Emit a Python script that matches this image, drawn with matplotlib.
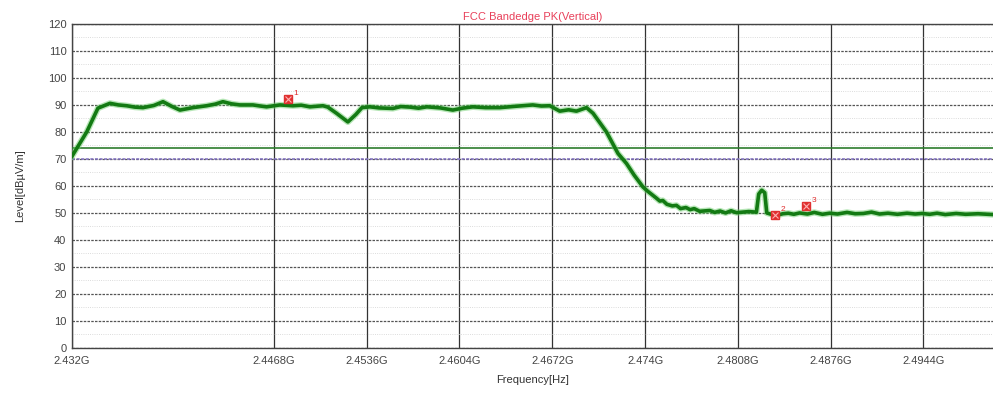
import matplotlib
matplotlib.use("Agg")
import matplotlib.pyplot as plt
from matplotlib.ticker import FixedLocator, MultipleLocator

# trace (frequency in GHz, level in dBuV/m)
freq_ghz = [
    2.43200, 2.43308, 2.43390, 2.43478, 2.43540, 2.43601, 2.43660, 2.43720,
    2.43800, 2.43867, 2.43930, 2.43991, 2.44086, 2.44187, 2.44250, 2.44306,
    2.44370, 2.44431, 2.44526, 2.44580, 2.44626, 2.44724, 2.44819, 2.44880,
    2.44944, 2.45039, 2.45075, 2.45139, 2.45222, 2.45281, 2.45325, 2.45383,
    2.45450, 2.45552, 2.45610, 2.45676, 2.45740, 2.45801, 2.45900, 2.45991,
    2.46060, 2.46138, 2.46230, 2.46336, 2.46450, 2.46577, 2.46640, 2.46702,
    2.46775, 2.46840, 2.46897, 2.46971, 2.47019, 2.47117, 2.47202, 2.47264,
    2.47320, 2.47385, 2.47420, 2.47450, 2.47480, 2.47508, 2.47530, 2.47560,
    2.47600, 2.47630, 2.47660, 2.47700, 2.47730, 2.47760, 2.47800, 2.47874,
    2.47910, 2.47950, 2.47990, 2.48030, 2.48070, 2.48116, 2.48160, 2.48216,
    2.48233, 2.48255, 2.48277, 2.48292, 2.48330, 2.48372, 2.48410, 2.48450,
    2.48490, 2.48533, 2.48590, 2.48640, 2.48700, 2.48753, 2.48810, 2.48880,
    2.48940, 2.49000, 2.49060, 2.49119, 2.49180, 2.49250, 2.49320, 2.49380,
    2.49430, 2.49486, 2.49540, 2.49600, 2.49680, 2.49750, 2.49840, 2.49947,
]
level = [
    71.0, 80.0, 88.8, 90.6, 90.0, 89.7, 89.2, 89.0,
    89.8, 91.2, 89.5, 88.1, 89.0, 89.7, 90.3, 91.2,
    90.4, 90.0, 90.0, 89.6, 89.3, 90.0, 89.7, 89.9,
    89.3, 89.7, 89.2, 86.9, 83.7, 86.5, 89.0, 89.3,
    88.9, 88.7, 89.4, 89.2, 88.8, 89.3, 88.9, 88.1,
    88.8, 89.3, 89.0, 89.0, 89.5, 90.0, 89.6, 89.7,
    87.7, 88.2, 87.7, 89.0, 86.9, 80.0, 72.0, 68.3,
    64.0, 59.6, 58.0, 56.8, 55.6, 54.4, 54.6, 53.2,
    52.6, 52.8, 51.6, 52.0, 51.2, 51.6, 50.6, 50.9,
    50.2, 50.7, 50.0, 50.8, 50.1, 50.3, 50.5, 50.3,
    57.0, 58.4, 57.5, 50.0, 49.4, 49.2, 49.7, 49.9,
    49.5, 50.0, 49.6, 50.2, 49.5, 49.9, 49.6, 50.2,
    49.7, 49.8, 50.3, 49.6, 49.9, 49.5, 49.9, 49.6,
    49.8, 49.5, 49.9, 49.4, 49.8, 49.5, 49.7, 49.4,
]

# marker points
mark_freq = [2.44785, 2.48350, 2.48582]
mark_level = [92.1, 49.2, 52.4]
mark_names = ["1", "2", "3"]

limit_pk = 74
limit_line2 = 70

x_ticks = [2.432, 2.4468, 2.4536, 2.4604, 2.4672, 2.474, 2.4808, 2.4876, 2.4944]
x_tick_labels = ["2.432G", "2.4468G", "2.4536G", "2.4604G", "2.4672G",
                 "2.474G", "2.4808G", "2.4876G", "2.4944G"]

plt.rcParams['font.family'] = ['Liberation Sans', 'DejaVu Sans']

fig = plt.figure(figsize=(9.93, 3.99), dpi=100)
ax = fig.add_axes([0.0725, 0.128, 0.9275, 0.812])

ax.set_xlim(2.432, 2.4995)
ax.set_ylim(0, 120)

# grid
ax.xaxis.set_major_locator(FixedLocator(x_ticks))
ax.set_xticklabels(x_tick_labels)
ax.yaxis.set_major_locator(MultipleLocator(10))
ax.yaxis.set_minor_locator(MultipleLocator(5))
ax.grid(True, axis='x', which='major', color='#333333', linewidth=0.9, linestyle='-')
ax.grid(True, axis='y', which='major', color='#555555', linewidth=0.9, linestyle=(0, (2, 1)))
ax.grid(True, axis='y', which='minor', color='#d0d0d0', linewidth=0.6, linestyle=':')

# limit lines
ax.axhline(limit_pk, color='#2e7d2e', linewidth=1.2, zorder=3)
ax.axhline(limit_line2, color='#7f6fc0', linewidth=1.1, linestyle=(0, (2, 1)), zorder=3)

# trace
ax.plot(freq_ghz, level, color='#6fcf6f', linewidth=4.5, alpha=0.5, zorder=4)
ax.plot(freq_ghz, level, color='#137a13', linewidth=2.6, zorder=5)

# markers
ax.plot(mark_freq, mark_level, linestyle='none', marker='s', markersize=6,
        color='#e03030', markeredgecolor='#e03030', zorder=6)
ax.plot(mark_freq, mark_level, linestyle='none', marker='x', markersize=4,
        color='#ffb0b0', markeredgewidth=0.8, zorder=7)
for f, v, n in zip(mark_freq, mark_level, mark_names):
    ax.annotate(n, (f, v), xytext=(4, 3), textcoords='offset points',
                color='#e03030', fontsize=6, zorder=8)

ax.spines['right'].set_visible(False)
for s in ['left', 'bottom', 'top']:
    ax.spines[s].set_color('#444444')
    ax.spines[s].set_linewidth(1.0)

ax.tick_params(axis='both', which='both', length=0, labelsize=8, colors='#444444', pad=4)
ax.tick_params(axis='x', pad=6)

ax.set_title("FCC Bandedge PK(Vertical)", color='#e8405a', fontsize=8, pad=3)
ax.set_xlabel("Frequency[Hz]", fontsize=8, color='#333333', labelpad=6)
ax.set_ylabel("Level[dBµV/m]", fontsize=8, color='#333333', labelpad=16)

fig.savefig("out.png", dpi=100)
